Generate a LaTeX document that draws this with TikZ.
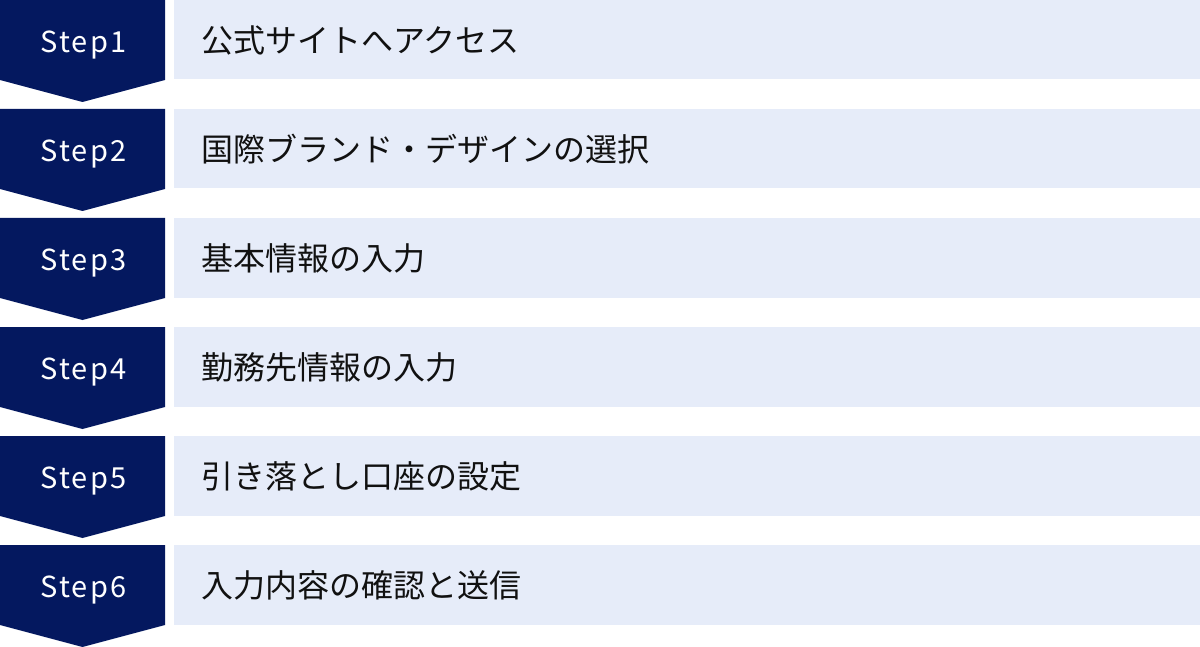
\documentclass[tikz,border=0pt]{standalone}
\usepackage{fontspec}
\newfontfamily\jp{Noto Sans CJK JP}
\newfontfamily\stepfont[LetterSpace=7]{Noto Sans CJK JP}
\definecolor{navy}{HTML}{04185F}
\definecolor{lightbg}{HTML}{E6ECF9}
\definecolor{txt}{HTML}{111111}
\tikzset{
  stepshape/.style={fill=navy,draw=none},
  lightbox/.style={fill=lightbg,draw=none},
  steplabel/.style={text=white,font=\stepfont\fontsize{29}{32}\selectfont,inner sep=0pt,anchor=base},
  desclabel/.style={text=txt,font=\jp\fontsize{32}{36}\selectfont,inner sep=0pt,anchor=west},
}
\begin{document}
\begin{tikzpicture}[x=1pt,y=-1pt]
\useasboundingbox (0,0) rectangle (1200,647);
\foreach \i/\desc in {1/公式サイトへアクセス,2/国際ブランド・デザインの選択,3/基本情報の入力,4/勤務先情報の入力,5/引き落とし口座の設定,6/入力内容の確認と送信}{
  \pgfmathsetmacro{\yo}{(\i-1)*109}
  \fill[stepshape] (0,\yo) -- (165,\yo) -- (165,\yo+80) -- (82.5,\yo+102) -- (0,\yo+80) -- cycle;
  \fill[lightbox] (174,\yo) rectangle (1200,\yo+79.5);
  \node[steplabel] (s\i) at (83.5,\yo+52.5) {Step\i};
  \node[desclabel] (d\i) at (201,\yo+40) {\desc};
}
\end{tikzpicture}
\end{document}
